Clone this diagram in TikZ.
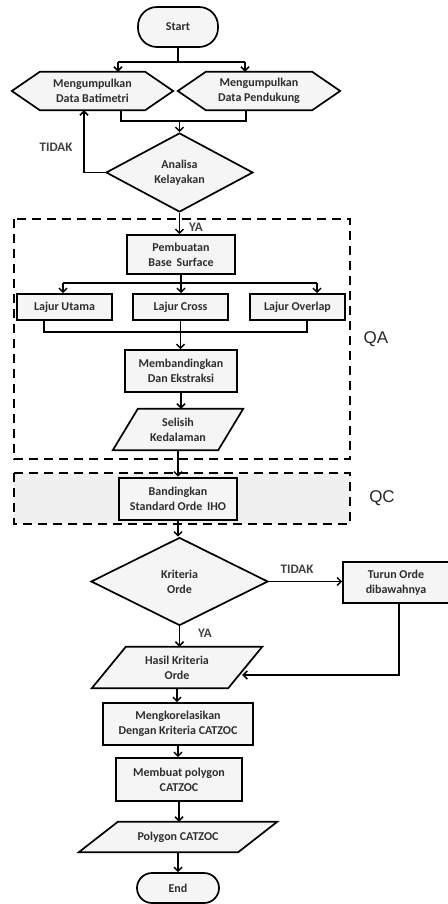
\documentclass[tikz,border=0pt]{standalone}
\usepackage{fontspec}
\setmainfont{Carlito}
\newfontfamily\qfont{Liberation Sans}
\usetikzlibrary{arrows.meta,shapes.geometric,calc,backgrounds}
\begin{document}
\begin{tikzpicture}[x=1pt,y=-1pt,
  every node/.style={font=\fontsize{12}{15}\selectfont\bfseries, text=black!82, align=center},
  arr/.style={-{Straight Barb[length=4pt,width=8pt]}, line width=1.5pt},
  ln/.style={line width=1.5pt},
  box/.style={draw, line width=1.7pt, fill=black!4, inner sep=0pt},
  term/.style={box, rounded corners=15pt},
  bare/.style={inner sep=0pt},
  dia/.style={diamond, draw, line width=1.7pt, fill=black!4, inner sep=0pt, aspect=1.8},
  shp/.style={draw, line width=1.7pt, fill=black!4},
  dbox/.style={dash pattern=on 9pt off 6pt, line width=1.9pt},
  lab/.style={font=\qfont\fontsize{17}{19}\selectfont, text=black!85},
  tlab/.style={font=\fontsize{13}{15}\selectfont\bfseries, text=black!75}
]
\useasboundingbox (0,0) rectangle (447,904);

% nodes
\node[term, minimum width=80pt, minimum height=40pt, rounded corners=19pt] (start) at (178,27) {Start};
\node[bare, minimum width=105pt, minimum height=38pt] (h1) at (92.5,91) {Mengumpulkan\\Data Batimetri};
\node[bare, minimum width=106pt, minimum height=38pt] (h2) at (259,91) {Mengumpulkan\\Data Pendukung};
\node[dia, minimum width=147pt, minimum height=79pt] (d1) at (179.5,172.5) {Analisa\\Kelayakan};
\node[box, minimum width=108pt, minimum height=39pt] (pb) at (181,254.5) {Pembuatan\\Base\, Surface};
\node[box, minimum width=95pt, minimum height=26pt] (lu) at (64.5,307) {Lajur Utama};
\node[box, minimum width=95pt, minimum height=26pt] (lc) at (180.5,307) {Lajur Cross};
\node[box, minimum width=95pt, minimum height=26pt] (lo) at (297.5,307) {Lajur Overlap};
\node[box, minimum width=112pt, minimum height=42pt] (mb) at (181,371) {Membandingkan\\Dan Ekstraksi};
\node[bare, minimum width=105pt, minimum height=41pt] (sk) at (178,429.5) {Selisih\\Kedalaman};
\node[box, line width=2.6pt, minimum width=118pt, minimum height=42pt] (bd) at (178,499) {Bandingkan\\Standard Orde\, IHO};
\node[dia, minimum width=177pt, minimum height=88pt] (d2) at (179.5,581.5) {Kriteria\\Orde};
\node[box, minimum width=106pt, minimum height=41pt] (tu) at (396,582.5) {Turun Orde\\dibawahnya};
\node[bare, minimum width=136pt, minimum height=41pt] (hs) at (177,667.5) {Hasil Kriteria\\Orde};
\node[box, minimum width=150pt, minimum height=42pt] (mk) at (178,724) {Mengkorelasikan\\Dengan Kriteria CATZOC};
\node[box, minimum width=126pt, minimum height=43pt] (mp) at (179,779.5) {Membuat polygon\\CATZOC};
\node[bare, minimum width=159pt, minimum height=30pt] (pc) at (178,837) {Polygon CATZOC};
\node[term, minimum width=82pt, minimum height=30pt] (end) at (178,888) {End};

% labels
\node[tlab] (t1) at (56,147) {TIDAK};
\node[tlab] (y1) at (196,227) {YA};
\node[tlab] (t2) at (297,569) {TIDAK};
\node[tlab] (y2) at (205,633) {YA};
\node[lab] (qa) at (376,339) {QA};
\node[lab] (qc) at (382,498) {QC};

% connectors
\coordinate (sp) at (178,62);
\coordinate (spl) at (118,62);
\coordinate (spr) at (245,62);
\draw[ln] (start.south) -- (sp);
\draw[ln] (spl) -- (spr);
\draw[arr] (spl) -- (spl |- h1.north);
\draw[arr] (spr) -- (spr |- h2.north);

\coordinate (jl) at (121,121);
\coordinate (jr) at (246,121);
\draw[ln] (jl |- h1.south) -- (jl) -- (jr) -- (jr |- h2.south);
\draw[arr] (d1.north |- jl) -- (d1.north);

\coordinate (tl) at (84,172.5);
\draw[arr] (d1.west) -- (tl) -- (tl |- h1.south);
\draw[arr] (d1.south) -- (d1.south |- pb.north);

\coordinate (p2l) at (63,283);
\coordinate (p2r) at (317,283);
\draw[ln] (pb.south) -- (pb.south |- p2l);
\draw[ln] (p2l) -- (p2r);
\draw[arr] (p2l) -- (p2l |- lu.north);
\draw[arr] (pb.south |- p2l) -- (pb.south |- lc.north);
\draw[arr] (p2r) -- (p2r |- lo.north);

\coordinate (q1) at (44,332);
\coordinate (q2) at (307,332);
\draw[ln] (q1 |- lu.south) -- (q1) -- (q2) -- (q2 |- lo.south);
\draw[arr] (lc.south) -- (lc.south |- mb.north);
\draw[arr] (mb.south) -- (mb.south |- sk.north);
\draw[arr] (sk.south) -- (sk.south |- bd.north);
\draw[arr] (bd.south) -- (bd.south |- d2.north);
\draw[arr] (d2.east) -- (tu.west |- d2.east);
\draw[arr] (d2.south) -- (d2.south |- hs.north);
\coordinate (tb) at (399,675);
\coordinate (hsin) at ($(hs.east)+(-3,7.5)$);
\draw[arr] (tb |- tu.south) -- (tb) -- (hsin);
\draw[arr] (hs.south) -- (hs.south |- mk.north);
\draw[arr] (mk.south) -- (mk.south |- mp.north);
\draw[arr] (mp.south) -- (mp.south |- pc.north);
\draw[arr] (pc.south) -- (pc.south |- end.north);

% background shapes
\begin{scope}[on background layer]
\draw[dbox] (14,219) rectangle (350,459);
\draw[dbox, fill=black!6] (14,473) rectangle (350,524);
\foreach \n in {h1,h2}
  \draw[shp] (\n.north west) -- (\n.north east) -- ($(\n.east)+(28,0)$) -- (\n.south east) -- (\n.south west) -- ($(\n.west)+(-28,0)$) -- cycle;
\draw[shp] ($(sk.north west)+(12.5,0)$) -- ($(sk.north east)+(12.5,0)$) -- ($(sk.south east)+(-12.5,0)$) -- ($(sk.south west)+(-12.5,0)$) -- cycle;
\draw[shp] ($(hs.north west)+(17,0)$) -- ($(hs.north east)+(17,0)$) -- ($(hs.south east)+(-17,0)$) -- ($(hs.south west)+(-17,0)$) -- cycle;
\draw[shp] ($(pc.north west)+(19.5,0)$) -- ($(pc.north east)+(19.5,0)$) -- ($(pc.south east)+(-19.5,0)$) -- ($(pc.south west)+(-19.5,0)$) -- cycle;
\end{scope}
\end{tikzpicture}
\end{document}
